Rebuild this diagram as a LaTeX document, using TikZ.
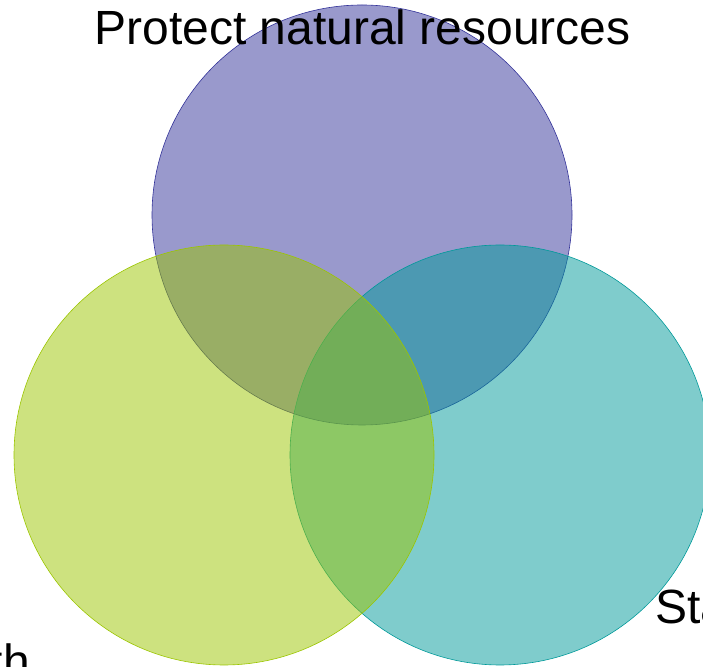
\documentclass[tikz,border=0pt]{standalone}
\usepackage{fontspec}
\setmainfont{Liberation Sans}
\usepackage{tikz}
\usetikzlibrary{positioning}
\definecolor{TopBlue}{RGB}{51,51,153}
\definecolor{LeafGreen}{RGB}{155,197,0}
\definecolor{SeaTeal}{RGB}{0,153,153}

\begin{document}
\begin{tikzpicture}[x=1pt,y=1pt,
	ring/.style={circle,minimum size=420pt,inner sep=0pt,fill opacity=0.5,draw opacity=1,line width=0.6pt},
	label/.style={font=\fontsize{48}{58}\selectfont,inner sep=0pt}]
	\useasboundingbox (0,0) rectangle (703,666);
	\clip (0,0) rectangle (703,666);
	% the three sets, top one first
	\node [ring,draw=TopBlue,fill=TopBlue,name=top] at (362,451) {};
	\node [ring,draw=SeaTeal,fill=SeaTeal,name=right] at (500,211) {};
	\node [ring,draw=LeafGreen,fill=LeafGreen,name=left] at (224,211) {};
	% texts
	\node [label,anchor=base,name=topl] at (362.5,621) {Protect natural resources};
	\node [label,anchor=base west,name=rightl] at (655,43) {Sta};
	\node [label,anchor=base east,name=leftl] at (30,-12) {th};
\end{tikzpicture}
\end{document}
